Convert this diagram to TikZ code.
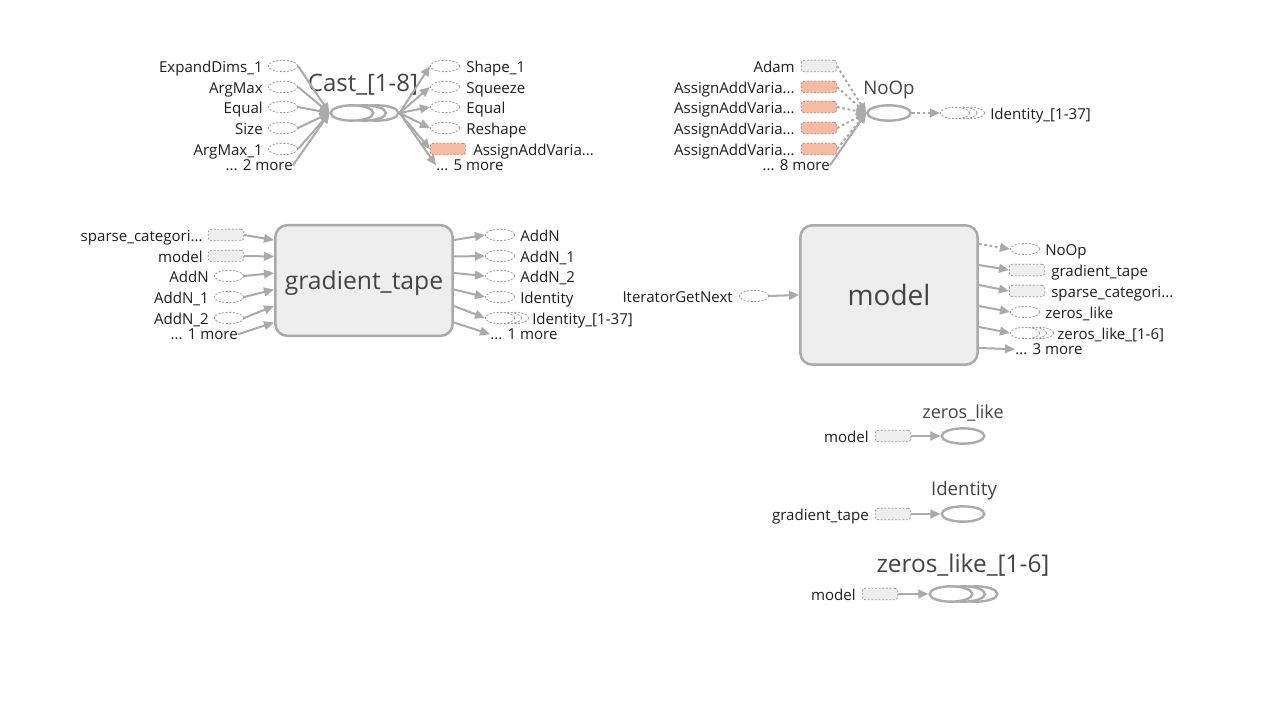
\documentclass[tikz,border=0pt]{standalone}
\usepackage{fontspec}
\setmainfont{Open Sans}
\usetikzlibrary{shapes.geometric,arrows.meta}
\definecolor{egray}{HTML}{AAAAAA}
\definecolor{dgray}{HTML}{999999}
\definecolor{fgray}{HTML}{EEEEEE}
\definecolor{ofill}{HTML}{F6BBA1}
\definecolor{odraw}{HTML}{B8836C}
\definecolor{txt}{HTML}{1E1E1E}
\definecolor{ttl}{HTML}{444444}
\tikzset{
  lab/.style={font=\fontsize{11.3}{13}\selectfont, text=txt, inner sep=0pt, yshift=-1.5pt},
  ttlb/.style={text=ttl, inner sep=0pt, yshift=-1.2pt},
  dell/.style={ellipse, draw=dgray, dash pattern=on 1.5pt off 1.2pt, line width=0.6pt, fill=white, minimum width=22pt, minimum height=8.5pt, inner sep=0pt},
  drect/.style={rectangle, rounded corners=2pt, draw=dgray, dash pattern=on 1.5pt off 1.2pt, line width=0.6pt, fill=fgray, minimum width=26.5pt, minimum height=8.5pt, inner sep=0pt},
  orect/.style={drect, fill=ofill, draw=odraw},
  opell/.style={ellipse, draw=egray, line width=1.8pt, fill=white, minimum width=32pt, minimum height=11.5pt, inner sep=0pt},
  meta/.style={rectangle, rounded corners=9pt, draw=egray, line width=1.9pt, fill=fgray, inner sep=0pt},
  edge/.style={draw=egray, line width=1.5pt, -{Triangle[length=7.5pt,width=6.5pt]}},
  cedge/.style={edge, dash pattern=on 2pt off 2pt},
}
\begin{document}
\begin{tikzpicture}[x=0.75pt,y=-0.75pt]
\useasboundingbox (0,0) rectangle (1276,705);
\fill[white] (0,0) rectangle (1276,705);

% ================= Cast group =================
\node[ttlb, font=\fontsize{18}{20}\selectfont] (castT) at (363,83) {Cast\_[1-8]};
\node[opell] (casts2) at (377,113) {};
\node[opell] (casts1) at (364.5,113) {};
\node[opell] (cast) at (352,113) {};

\node[dell] (ci1) at (283,66) {};
\node[dell] (ci2) at (283,87) {};
\node[dell] (ci3) at (283,107) {};
\node[dell] (ci4) at (283,128) {};
\node[dell] (ci5) at (283,149) {};
\node[lab, anchor=mid east] (cil1) at (263,67) {ExpandDims\_1};
\node[lab, anchor=mid east] (cil2) at (263,88) {ArgMax};
\node[lab, anchor=mid east] (cil3) at (263,108) {Equal};
\node[lab, anchor=mid east] (cil4) at (263,129) {Size};
\node[lab, anchor=mid east] (cil5) at (263,150) {ArgMax\_1};
\node[lab, anchor=mid east] (cim) at (293,165) {... 2 more};
\foreach \i in {1,...,5} {\draw[edge] (ci\i.east) -- (cast.west);}
\draw[edge] (cim.east) -- (cast.west);

\node[dell] (co1) at (445,66) {};
\node[dell] (co2) at (445,87) {};
\node[dell] (co3) at (445,107) {};
\node[dell] (co4) at (445,128) {};
\node[orect] (co5) at (448,149) {};
\node[lab, anchor=mid west] (col1) at (466,67) {Shape\_1};
\node[lab, anchor=mid west] (col2) at (466,88) {Squeeze};
\node[lab, anchor=mid west] (col3) at (466,108) {Equal};
\node[lab, anchor=mid west] (col4) at (466,129) {Reshape};
\node[lab, anchor=mid west] (col5) at (473,150) {AssignAddVaria...};
\node[lab, anchor=mid west] (com) at (436,165) {... 5 more};
\foreach \i in {1,...,5} {\draw[edge] (casts2.east) -- (co\i.west);}
\draw[edge] (casts2.east) -- (com.west);

% ================= NoOp group =================
\node[ttlb, font=\fontsize{14}{16}\selectfont] (noopT) at (889,88) {NoOp};
\node[opell, minimum width=32.5pt] (noop) at (889,113) {};
\node[drect] (ni1) at (819,66) {};
\node[orect] (ni2) at (819,87) {};
\node[orect] (ni3) at (819,107) {};
\node[orect] (ni4) at (819,128) {};
\node[orect] (ni5) at (819,149) {};
\node[lab, anchor=mid east] (nil1) at (795,67) {Adam};
\node[lab, anchor=mid east] (nil2) at (795,88) {AssignAddVaria...};
\node[lab, anchor=mid east] (nil3) at (795,108) {AssignAddVaria...};
\node[lab, anchor=mid east] (nil4) at (795,129) {AssignAddVaria...};
\node[lab, anchor=mid east] (nil5) at (795,150) {AssignAddVaria...};
\node[lab, anchor=mid east] (nim) at (830,165) {... 8 more};
\foreach \i in {1,...,5} {\draw[cedge] (ni\i.east) -- (noop.west);}
\draw[edge] (nim.east) -- (noop.west);

\node[dell] (nos2) at (970,113) {};
\node[dell] (nos1) at (962.5,113) {};
\node[dell] (no1) at (955,113) {};
\node[lab, anchor=mid west] (nol1) at (990,114) {Identity\_[1-37]};
\draw[cedge] (noop.east) -- (no1.west);

% ================= gradient_tape =================
\node[meta, minimum width=133pt, minimum height=83pt, font=\fontsize{18.5}{20}\selectfont, text=ttl, text height=13pt, text depth=0pt] (gt) at (364,280.5) {gradient\_tape};
\node[drect] (gi1) at (226,235) {};
\node[drect] (gi2) at (226,256) {};
\node[dell] (gi3) at (229,276) {};
\node[dell] (gi4) at (229,297) {};
\node[dell] (gi5) at (229,318) {};
\node[lab, anchor=mid east] (gil1) at (203,236) {sparse\_categori...};
\node[lab, anchor=mid east] (gil2) at (203,257) {model};
\node[lab, anchor=mid east] (gil3) at (209,277) {AddN};
\node[lab, anchor=mid east] (gil4) at (209,298) {AddN\_1};
\node[lab, anchor=mid east] (gil5) at (209,319) {AddN\_2};
\node[lab, anchor=mid east] (gim) at (238,334) {... 1 more};
\coordinate (gL1) at (274,240);
\coordinate (gL2) at (274,256.5);
\coordinate (gL3) at (274,273);
\coordinate (gL4) at (274,289.5);
\coordinate (gL5) at (274,306);
\coordinate (gL6) at (274,322.5);
\foreach \i in {1,...,5} {\draw[edge] (gi\i.east) -- (gL\i);}
\draw[edge] (gim.east) -- (gL6);

\node[dell] (go1) at (500,235) {};
\node[dell] (go2) at (500,256) {};
\node[dell] (go3) at (500,276) {};
\node[dell] (go4) at (500,297) {};
\node[dell] (go5b) at (514,318) {};
\node[dell] (go5a) at (507,318) {};
\node[dell] (go5) at (500,318) {};
\node[lab, anchor=mid west] (gol1) at (520,236) {AddN};
\node[lab, anchor=mid west] (gol2) at (520,257) {AddN\_1};
\node[lab, anchor=mid west] (gol3) at (520,277) {AddN\_2};
\node[lab, anchor=mid west] (gol4) at (520,298) {Identity};
\node[lab, anchor=mid west] (gol5) at (532,319) {Identity\_[1-37]};
\node[lab, anchor=mid west] (gom) at (490,334) {... 1 more};
\coordinate (gR1) at (454,240);
\coordinate (gR2) at (454,256.5);
\coordinate (gR3) at (454,273);
\coordinate (gR4) at (454,289.5);
\coordinate (gR5) at (454,306);
\coordinate (gR6) at (454,322.5);
\foreach \i in {1,...,5} {\draw[edge] (gR\i) -- (go\i.west);}
\draw[edge] (gR6) -- (gom.west);

% ================= model =================
\node[meta, minimum width=133pt, minimum height=104.5pt, font=\fontsize{21}{24}\selectfont, text=ttl] (md) at (889,295) {model};
\node[dell] (mi1) at (754,296) {};
\node[lab, anchor=mid east] (mil1) at (733,297) {IteratorGetNext};
\draw[edge] (mi1.east) -- (md.west);

\node[dell] (mo1) at (1025,249) {};
\node[drect] (mo2) at (1027,270) {};
\node[drect] (mo3) at (1027,291) {};
\node[dell] (mo4) at (1025,312) {};
\node[dell] (mo5b) at (1039,333) {};
\node[dell] (mo5a) at (1032,333) {};
\node[dell] (mo5) at (1025,333) {};
\node[lab, anchor=mid west] (mol1) at (1045,250) {NoOp};
\node[lab, anchor=mid west] (mol2) at (1051,271) {gradient\_tape};
\node[lab, anchor=mid west] (mol3) at (1051,292) {sparse\_categori...};
\node[lab, anchor=mid west] (mol4) at (1045,313) {zeros\_like};
\node[lab, anchor=mid west] (mol5) at (1057,334) {zeros\_like\_[1-6]};
\node[lab, anchor=mid west] (mom) at (1015,349) {... 3 more};
\coordinate (mR1) at (979,244);
\coordinate (mR2) at (979,265);
\coordinate (mR3) at (979,285);
\coordinate (mR4) at (979,306);
\coordinate (mR5) at (979,327);
\coordinate (mR6) at (979,348);
\draw[cedge] (mR1) -- (mo1.west);
\foreach \i in {2,...,5} {\draw[edge] (mR\i) -- (mo\i.west);}
\draw[edge] (mR6) -- (mom.west);

% ================= zeros_like =================
\node[ttlb, font=\fontsize{13.5}{15}\selectfont] (zlT) at (963,411) {zeros\_like};
\node[opell] (zl) at (963,436) {};
\node[drect] (zli) at (893,436) {};
\node[lab, anchor=mid east] (zlil) at (869,437) {model};
\draw[edge] (zli.east) -- (zl.west);

% ================= Identity =================
\node[ttlb, font=\fontsize{14}{16}\selectfont] (idT) at (964,489) {Identity};
\node[opell] (id) at (963,514) {};
\node[drect] (idi) at (893,514) {};
\node[lab, anchor=mid east] (idil) at (869,515) {gradient\_tape};
\draw[edge] (idi.east) -- (id.west);

% ================= zeros_like_[1-6] =================
\node[ttlb, font=\fontsize{18.3}{20}\selectfont] (zsT) at (963,564) {zeros\_like\_[1-6]};
\node[opell] (zs2) at (976,594) {};
\node[opell] (zs1) at (963.5,594) {};
\node[opell] (zs) at (951,594) {};
\node[drect] (zsi) at (880,594) {};
\node[lab, anchor=mid east] (zsil) at (856,595) {model};
\draw[edge] (zsi.east) -- (zs.west);
\end{tikzpicture}
\end{document}
